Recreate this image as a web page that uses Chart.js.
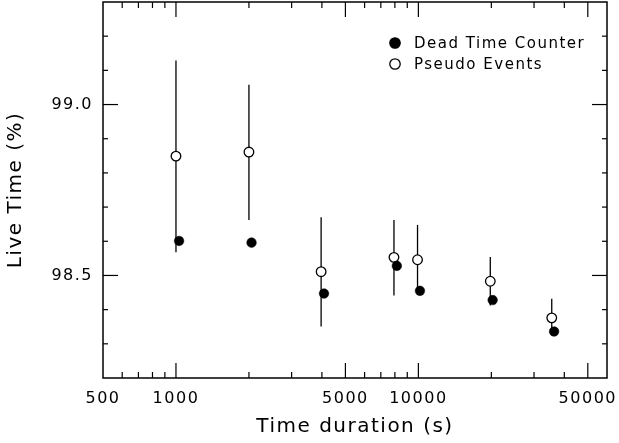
<!DOCTYPE html>
<html>
<head>
<meta charset="utf-8">
<script src="https://cdn.jsdelivr.net/npm/chart.js@4/dist/chart.umd.min.js"></script>
<style>
  html, body { margin: 0; padding: 0; background: #fff; }
  #wrap { width: 619px; height: 443px; }
</style>
</head>
<body>
<div id="wrap"><canvas id="live-chart" width="619" height="443"></canvas></div>
<script>
/* ── Live time vs. time duration ── */

const dtcTime    = [1030, 2050, 4080, 8150, 10150, 20250, 36300];
const dtcLive    = [98.601, 98.596, 98.447, 98.528, 98.455, 98.428, 98.336];
const pseudoTime = [1000, 2000, 3970, 7930, 9920, 19800, 35500];
const pseudoLive = [98.849, 98.861, 98.511, 98.553, 98.546, 98.483, 98.376];
const pseudoLow  = [98.568, 98.662, 98.351, 98.441, 98.445, 98.412, 98.324];
const pseudoHigh = [99.129, 99.058, 98.670, 98.662, 98.648, 98.554, 98.432];

const xLabelTicks = [500, 1000, 5000, 10000, 50000];
const xMajorTicks = [1000, 5000, 10000, 50000];
const xMinorTicks = [600, 700, 800, 900, 2000, 3000, 4000, 6000, 7000, 8000, 9000, 20000, 30000, 40000];
const yLabelTicks = [98.5, 99.0];
const yMinorTicks = [98.3, 98.4, 98.6, 98.7, 98.8, 98.9, 99.1, 99.2];

const FONT = 'DejaVu Sans';

const noPad = s => { s.paddingTop = 0; s.paddingBottom = 0; s.paddingLeft = 0; s.paddingRight = 0; };

// frame, inward ticks, error bars and legend
const framePlugin = {
  id: 'frame',
  beforeLayout(chart) { chart.ctx.letterSpacing = '1.5px'; },
  beforeDraw(chart) { chart.ctx.letterSpacing = '1.5px'; },
  beforeDatasetsDraw(chart) {
    const { ctx, scales: { x, y } } = chart;
    ctx.save();
    ctx.strokeStyle = '#000';
    ctx.lineWidth = 1.3;
    pseudoTime.forEach((t, i) => {
      const px = x.getPixelForValue(t);
      ctx.beginPath();
      ctx.moveTo(px, y.getPixelForValue(pseudoLow[i]));
      ctx.lineTo(px, y.getPixelForValue(pseudoHigh[i]));
      ctx.stroke();
    });
    ctx.restore();
  },
  afterDraw(chart) {
    const { ctx, chartArea: a, scales: { x, y } } = chart;
    ctx.save();
    ctx.strokeStyle = '#000';
    ctx.lineWidth = 1.5;
    ctx.strokeRect(a.left, a.top, a.right - a.left, a.bottom - a.top);

    ctx.lineWidth = 1.2;
    const seg = (x1, y1, x2, y2) => { ctx.beginPath(); ctx.moveTo(x1, y1); ctx.lineTo(x2, y2); ctx.stroke(); };
    const xt = (v, len) => { const p = x.getPixelForValue(v); seg(p, a.bottom, p, a.bottom - len); seg(p, a.top, p, a.top + len); };
    const yt = (v, len) => { const p = y.getPixelForValue(v); seg(a.left, p, a.left + len, p); seg(a.right, p, a.right - len, p); };
    xMajorTicks.forEach(v => xt(v, 15));
    xMinorTicks.forEach(v => xt(v, 6));
    yLabelTicks.forEach(v => yt(v, 15));
    yMinorTicks.forEach(v => yt(v, 5));

    // legend
    ctx.font = `15px "${FONT}"`;
    ctx.textBaseline = 'middle';
    ctx.textAlign = 'left';
    ctx.fillStyle = '#000';
    chart.data.datasets.forEach((ds, i) => {
      const cx = a.right - 212, cy = a.top + 41 + i * 21;
      ctx.beginPath();
      ctx.arc(cx, cy, 5.2, 0, Math.PI * 2);
      ctx.fillStyle = ds.pointBackgroundColor;
      ctx.fill();
      ctx.lineWidth = 1.3;
      ctx.stroke();
      ctx.fillStyle = '#000';
      ctx.fillText(ds.label, cx + 19, cy + 1);
    });
    ctx.restore();
  }
};

new Chart(document.getElementById('live-chart'), {
  type: 'scatter',
  data: {
    datasets: [
      {
        label: 'Dead Time Counter',
        data: dtcTime.map((t, i) => ({ x: t, y: dtcLive[i] })),
        pointRadius: 4.8,
        pointBackgroundColor: '#000',
        pointBorderColor: '#000',
        pointBorderWidth: 0.5,
      },
      {
        label: 'Pseudo Events',
        data: pseudoTime.map((t, i) => ({ x: t, y: pseudoLive[i] })),
        pointRadius: 4.8,
        pointBackgroundColor: '#fff',
        pointBorderColor: '#000',
        pointBorderWidth: 1.3,
      }
    ]
  },
  options: {
    responsive: false,
    animation: false,
    layout: { autoPadding: false, padding: { left: 0, top: 2, right: 12, bottom: 0 } },
    plugins: { legend: { display: false }, tooltip: { enabled: false } },
    scales: {
      x: {
        type: 'logarithmic', min: 500, max: 60000,
        grid: { display: false, drawTicks: false },
        border: { display: false },
        afterBuildTicks: s => { s.ticks = xLabelTicks.map(v => ({ value: v })); },
        afterFit: s => { s.height = 65; noPad(s); },
        ticks: {
          color: '#000', font: { family: FONT, size: 16 }, padding: 11,
          maxRotation: 0, autoSkip: false, callback: v => String(v)
        },
        title: {
          display: true, text: 'Time duration (s)', color: '#000',
          font: { family: FONT, size: 20 }, padding: { top: 0, bottom: 4 }
        }
      },
      y: {
        min: 98.2, max: 99.3,
        grid: { display: false, drawTicks: false },
        border: { display: false },
        afterBuildTicks: s => { s.ticks = yLabelTicks.map(v => ({ value: v })); },
        afterFit: s => { s.width = 103; noPad(s); },
        ticks: {
          color: '#000', font: { family: FONT, size: 16 }, padding: 10,
          callback: v => v.toFixed(1)
        },
        title: {
          display: true, text: 'Live Time (%)', color: '#000',
          font: { family: FONT, size: 20 }, padding: { top: 4, bottom: 0 }
        }
      }
    }
  },
  plugins: [framePlugin]
});
</script>
</body>
</html>
